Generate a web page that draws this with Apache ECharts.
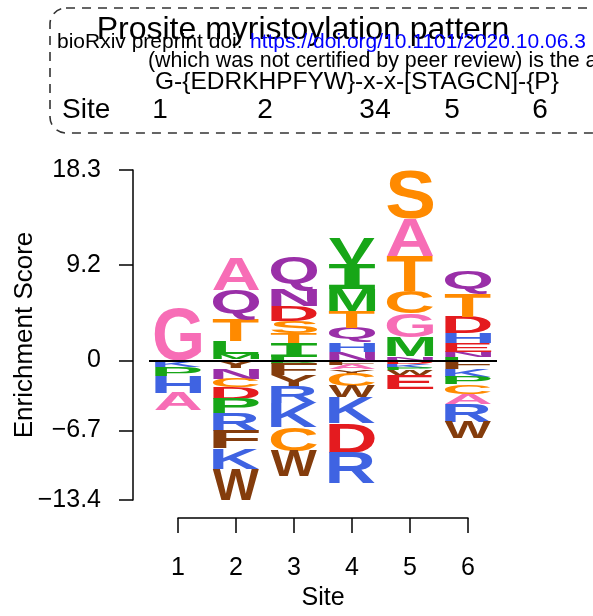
<!DOCTYPE html>
<html><head><meta charset="utf-8">
<script src="https://cdn.jsdelivr.net/npm/echarts@6/dist/echarts.min.js"></script>
<style>html,body{margin:0;padding:0;background:#fff}#c{width:593px;height:616px}</style>
</head><body><div id="c"></div>
<script>
// ---------- data ----------
const sites = [1, 2, 3, 4, 5, 6];
const yTicks = [-13.4, -6.7, 0, 9.2, 18.3];
// letters stacked from zero outward: [letter, height]
const site1Up   = [['G', 5.0]];
const site1Down = [['K', 0.6], ['P', 0.9], ['H', 1.6], ['A', 1.7]];
const site2Up   = [['H', 0.15], ['M', 0.45], ['L', 1.25], ['T', 2.1], ['Q', 2.8], ['A', 3.1]];
const site2Down = [['Y', 0.75], ['N', 1.0], ['C', 0.85], ['D', 1.05], ['P', 1.45], ['R', 1.65], ['F', 1.7], ['K', 2.0], ['W', 2.95]];
const site3Up   = [['L', 0.3], ['I', 1.35], ['T', 0.95], ['S', 1.15], ['D', 1.45], ['N', 1.55], ['Q', 3.15]];
const site3Down = [['P', 0.3], ['F', 1.15], ['Y', 1.05], ['R', 1.6], ['K', 2.3], ['C', 2.3], ['W', 2.4]];
const site4Up   = [['N', 0.85], ['H', 0.85], ['Q', 1.45], ['T', 1.65], ['M', 2.1], ['I', 2.4], ['V', 2.4]];
const site4Down = [['F', 0.4], ['A', 0.45], ['Y', 0.4], ['C', 1.25], ['W', 1.05], ['K', 2.5], ['D', 2.8], ['R', 2.9]];
const site5Up   = [['N', 0.4], ['M', 1.8], ['G', 2.3], ['C', 2.2], ['T', 3.35], ['A', 3.55], ['S', 4.7]];
const site5Down = [['D', 0.3], ['K', 0.4], ['P', 0.2], ['W', 0.45], ['E', 1.35]];
const site6Up   = [['L', 0.3], ['N', 0.55], ['E', 0.8], ['H', 0.95], ['D', 1.55], ['T', 2.2], ['Q', 2.3]];
const site6Down = [['F', 0.85], ['K', 0.7], ['P', 0.75], ['C', 0.9], ['A', 0.95], ['R', 1.75], ['W', 1.55]];
const headerSites = ['1', '2', '3', '4', '5', '6'];
const patternText = 'G-{EDRKHPFYW}-x-x-[STAGCN]-{P}';
const titleText = 'Prosite myristoylation pattern';

const upStacks = [site1Up, site2Up, site3Up, site4Up, site5Up, site6Up];
const downStacks = [site1Down, site2Down, site3Down, site4Down, site5Down, site6Down];

const letterColor = {
  G: '#f76db6', A: '#f76db6',
  K: '#3f63e2', H: '#3f63e2', R: '#3f63e2',
  P: '#17a617', L: '#17a617', M: '#17a617', I: '#17a617', V: '#17a617',
  T: '#ff8a00', C: '#ff8a00', S: '#ff8a00',
  Q: '#9a2fa8', N: '#9a2fa8',
  D: '#e41b1f', E: '#e41b1f',
  F: '#843c0c', W: '#843c0c', Y: '#843c0c'
};

// build marks
const marks = [];
sites.forEach((s, i) => {
  let acc = 0;
  upStacks[i].forEach(([l, h]) => { marks.push({x: s, y0: acc, y1: acc + h, letter: l}); acc += h; });
  acc = 0;
  downStacks[i].forEach(([l, h]) => { marks.push({x: s, y0: acc - h, y1: acc, letter: l}); acc -= h; });
});

const LFONT = 'bold 100px "Liberation Sans", Arial, sans-serif';
const IFONT = 'bold 100px "DejaVu Sans Mono", "Liberation Mono", monospace';
function fontFor(ch) { return ch === 'I' ? IFONT : LFONT; }
const mctx = document.createElement('canvas').getContext('2d');
const metCache = {};
function metrics(ch) {
  if (!metCache[ch]) {
    mctx.font = fontFor(ch); mctx.textBaseline = 'middle'; mctx.textAlign = 'left';
    const m = mctx.measureText(ch);
    metCache[ch] = {l: m.actualBoundingBoxLeft, r: m.actualBoundingBoxRight,
                    a: m.actualBoundingBoxAscent, d: m.actualBoundingBoxDescent};
  }
  return metCache[ch];
}

const FONT = '"Liberation Sans", Arial, sans-serif';
const chart = echarts.init(document.getElementById('c'), null, {renderer: 'canvas'});
chart.setOption({
  animation: false,
  backgroundColor: '#fff',
  grid: [
    {left: 149, width: 348, top: 170, height: 330, containLabel: false, outerBoundsMode: 'none'},
    {left: 178, width: 290, top: 170, height: 330, containLabel: false, outerBoundsMode: 'none'}
  ],
  xAxis: [
    {gridIndex: 0, type: 'value', min: 0.5, max: 6.5, show: false},
    {gridIndex: 1, type: 'value', min: 1, max: 6, interval: 1, offset: 18,
     axisLine: {show: true, onZero: false, lineStyle: {color: '#000', width: 1.5}},
     axisTick: {show: true, length: 15, lineStyle: {color: '#000', width: 1.5}},
     axisLabel: {color: '#000', fontSize: 25, fontFamily: FONT, margin: 38},
     splitLine: {show: false},
     name: 'Site', nameLocation: 'middle', nameGap: 68, nameMoveOverlap: false,
     nameTextStyle: {color: '#000', fontSize: 25, fontFamily: FONT}}
  ],
  yAxis: [
    {gridIndex: 0, type: 'value', min: -13.4, max: 18.3, offset: 16,
     axisLine: {show: true, onZero: false, lineStyle: {color: '#000', width: 1.5}},
     axisTick: {show: true, length: 14, customValues: yTicks, lineStyle: {color: '#000', width: 1.5}},
     axisLabel: {color: '#000', fontSize: 25, fontFamily: FONT, margin: 32, customValues: yTicks,
       formatter: v => (v < 0 ? '\u2212' + Math.abs(v) : String(v))},
     splitLine: {show: false},
     name: 'Enrichment Score', nameLocation: 'middle', nameGap: 95, nameRotate: 90, nameMoveOverlap: false,
     nameTextStyle: {color: '#000', fontSize: 26, fontFamily: FONT}},
    {gridIndex: 1, type: 'value', min: -13.4, max: 18.3, show: false}
  ],
  graphic: [
    {type: 'rect', shape: {x: 50, y: 8, width: 560, height: 125, r: 16},
     style: {fill: 'none', stroke: '#333', lineWidth: 1.6, lineDash: [9, 7]}},
    {type: 'text', x: 303, y: 30, style: {text: titleText, font: '32px ' + FONT, fill: '#000', align: 'center', verticalAlign: 'middle'}},
    {type: 'text', x: 57, y: 42, style: {text: 'bioRxiv preprint doi: ', font: '21px ' + FONT, fill: '#000', align: 'left', verticalAlign: 'middle'}},
    {type: 'text', x: 250, y: 42, style: {text: 'https://doi.org/10.1101/2020.10.06.3', font: '21px ' + FONT, fill: '#0000ff', align: 'left', verticalAlign: 'middle'}},
    {type: 'text', x: 148, y: 61, style: {text: '(which was not certified by peer review) is the author/funder', font: '21.4px ' + FONT, fill: '#000', align: 'left', verticalAlign: 'middle'}},
    {type: 'text', x: 155, y: 82, style: {text: patternText, font: '24.5px ' + FONT, fill: '#000', align: 'left', verticalAlign: 'middle'}},
    {type: 'text', x: 62, y: 110, style: {text: 'Site', font: '28px ' + FONT, fill: '#000', align: 'left', verticalAlign: 'middle'}},
    {type: 'text', x: 160, y: 110, style: {text: headerSites[0], font: '28px ' + FONT, fill: '#000', align: 'center', verticalAlign: 'middle'}},
    {type: 'text', x: 265, y: 110, style: {text: headerSites[1], font: '28px ' + FONT, fill: '#000', align: 'center', verticalAlign: 'middle'}},
    {type: 'text', x: 367, y: 110, style: {text: headerSites[2], font: '28px ' + FONT, fill: '#000', align: 'center', verticalAlign: 'middle'}},
    {type: 'text', x: 383, y: 110, style: {text: headerSites[3], font: '28px ' + FONT, fill: '#000', align: 'center', verticalAlign: 'middle'}},
    {type: 'text', x: 452, y: 110, style: {text: headerSites[4], font: '28px ' + FONT, fill: '#000', align: 'center', verticalAlign: 'middle'}},
    {type: 'text', x: 540, y: 110, style: {text: headerSites[5], font: '28px ' + FONT, fill: '#000', align: 'center', verticalAlign: 'middle'}}
  ],
  series: [{
    type: 'custom',
    xAxisIndex: 0, yAxisIndex: 0,
    data: marks.map(m => [m.x, m.y0, m.y1]),
    renderItem: function (params, api) {
      const m = marks[params.dataIndex];
      const p0 = api.coord([api.value(0) - 0.4, api.value(2)]);
      const p1 = api.coord([api.value(0) + 0.4, api.value(1)]);
      const W = p1[0] - p0[0], H = p1[1] - p0[1];
      const met = metrics(m.letter);
      const sx = W / (met.l + met.r), sy = H / (met.a + met.d);
      return {
        type: 'text',
        x: p0[0] + sx * met.l, y: p0[1] + sy * met.a,
        scaleX: sx, scaleY: sy,
        style: {text: m.letter, font: fontFor(m.letter), fill: letterColor[m.letter], align: 'left', verticalAlign: 'middle'}
      };
    },
    markLine: {
      silent: true, symbol: 'none', animation: false,
      label: {show: false},
      lineStyle: {color: '#000', width: 2, type: 'solid'},
      data: [{yAxis: 0}]
    }
  }]
});
</script>
</body></html>
